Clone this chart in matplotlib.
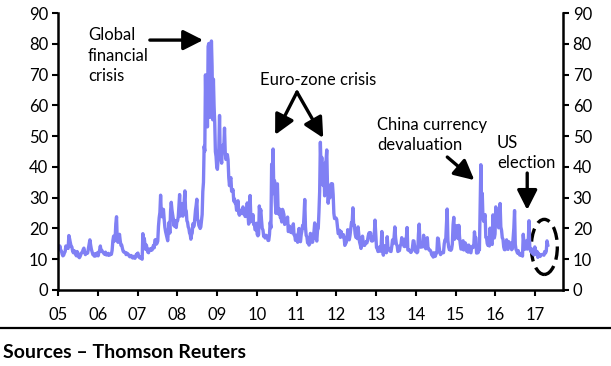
import numpy as np
import matplotlib
matplotlib.use("Agg")
import matplotlib.pyplot as plt
from matplotlib.patches import Ellipse

plt.rcParams['font.family'] = ['Lato', 'DejaVu Sans']

# Weekly VIX readings (approximate), one list per calendar year
vix_2005 = [14.1, 13.5, 14.3, 12.9, 12.7, 11.7, 11.1, 11.3, 12.0, 12.5, 14.3, 13.5, 14.0,
            13.5, 17.7, 16.6, 15.3, 14.2, 14.0, 12.6, 12.1, 12.8, 12.2, 11.6, 11.1, 12.5,
            12.0, 10.8, 10.5, 10.9, 11.6, 12.1, 12.3, 13.1, 13.6, 12.3, 11.5, 12.0, 11.9,
            12.0, 13.5, 15.0, 16.3, 14.6, 13.2, 12.3, 11.5, 11.4, 11.0, 11.8, 11.1, 11.8, 12.1]
vix_2006 = [11.1, 12.2, 12.9, 14.3, 12.6, 12.9, 12.4, 12.2, 11.8, 11.6, 12.3, 11.4, 11.4,
            11.4, 11.9, 11.3, 11.4, 11.6, 11.6, 12.9, 16.0, 17.5, 15.9, 16.3, 21.5, 23.8,
            15.9, 15.5, 16.5, 18.1, 16.0, 14.5, 14.6, 13.5, 12.6, 12.3, 12.3, 12.1, 11.5,
            12.0, 11.6, 11.6, 11.1, 10.8, 11.2, 11.2, 10.6, 10.4, 10.9, 10.9, 10.3, 10.8,
            11.6, 11.5]
vix_2007 = [12.0, 10.9, 10.6, 10.4, 10.7, 10.3, 10.0, 18.3, 15.7, 16.8, 14.7, 13.2, 14.6,
            13.2, 12.3, 12.1, 13.3, 13.2, 12.9, 13.5, 13.0, 13.8, 14.5, 13.7, 16.2, 16.4,
            14.9, 15.2, 15.9, 20.7, 23.5, 25.2, 30.8, 25.0, 23.8, 26.2, 26.2, 23.0, 20.4,
            19.0, 18.0, 17.0, 16.0, 19.5, 22.0, 18.5, 25.5, 28.5, 26.0, 24.5, 22.9, 20.8,
            22.6, 21.0, 20.3, 22.5]
vix_2008 = [22.5, 23.9, 27.2, 31.0, 24.0, 26.0, 28.0, 25.0, 24.0, 26.5, 29.0, 32.2, 26.0,
            25.7, 22.5, 22.0, 20.5, 20.0, 18.5, 18.0, 16.5, 18.0, 18.5, 21.5, 20.5, 21.0,
            23.5, 26.0, 27.5, 29.5, 23.0, 22.5, 21.0, 20.5, 20.0, 20.5, 22.5, 24.5, 32.0,
            35.0, 46.7, 45.1, 69.9, 55.0, 67.6, 53.0, 79.1, 80.1, 59.9, 56.1, 66.3, 80.9,
            72.7, 55.3, 68.5, 59.9, 54.3, 44.9, 43.4, 40.0]
vix_2009 = [39.2, 42.8, 46.1, 56.7, 42.6, 43.0, 41.2, 46.5, 47.1, 46.3, 52.6, 44.9, 42.4,
            43.2, 44.0, 42.3, 36.5, 33.9, 35.9, 36.5, 32.1, 32.1, 32.6, 28.9, 29.6, 28.2,
            28.1, 25.9, 26.4, 29.0, 25.0, 24.3, 25.9, 25.9, 25.4, 24.8, 27.0, 24.8, 25.3,
            23.9, 23.9, 25.6, 28.3, 25.0, 21.4, 22.3, 30.7, 24.2, 24.2, 22.2, 24.5, 21.3,
            21.5, 19.6, 19.5, 21.7]
vix_2010 = [18.1, 17.6, 18.0, 27.3, 24.6, 26.1, 22.7, 20.0, 19.5, 17.4, 17.6, 16.9, 17.8,
            17.6, 17.5, 16.1, 16.1, 18.0, 22.0, 20.2, 40.9, 31.2, 45.8, 32.0, 35.5, 28.6,
            24.9, 34.0, 34.5, 25.0, 24.6, 26.3, 23.5, 23.5, 22.1, 26.2, 25.5, 24.5, 21.3,
            22.0, 21.7, 22.0, 23.7, 19.0, 19.1, 20.7, 18.8, 20.2, 18.6, 18.9, 21.5, 17.9,
            17.6, 16.1, 17.8]
vix_2011 = [17.6, 15.5, 18.5, 20.0, 16.0, 15.7, 18.0, 19.2, 21.0, 20.1, 24.3, 29.4, 20.6,
            17.7, 17.4, 15.3, 15.9, 14.6, 15.0, 18.4, 17.1, 17.0, 15.5, 18.0, 18.9, 21.8,
            19.2, 16.5, 15.9, 19.5, 20.0, 25.3, 32.0, 48.0, 39.0, 43.1, 36.0, 33.9, 38.5,
            30.6, 41.3, 42.0, 45.5, 34.0, 28.2, 31.3, 29.9, 30.2, 34.5, 32.8, 34.5, 31.0,
            24.9, 23.2, 23.4, 23.4]
vix_2012 = [22.9, 20.6, 18.3, 18.5, 19.4, 17.1, 19.0, 17.8, 17.3, 18.0, 17.1, 14.5, 15.0,
            15.5, 16.7, 19.6, 17.4, 16.3, 17.6, 19.9, 21.9, 22.0, 26.7, 21.0, 21.1, 18.3,
            17.1, 17.1, 16.7, 20.5, 18.2, 15.6, 14.7, 13.5, 15.2, 17.5, 15.6, 14.5, 14.5,
            15.3, 15.7, 15.3, 16.4, 17.8, 18.6, 17.6, 18.6, 16.0, 15.9, 16.0, 16.6, 17.8,
            22.7, 18.0]
vix_2013 = [13.8, 13.4, 12.5, 12.9, 14.0, 12.6, 14.0, 19.0, 13.1, 11.3, 14.4, 12.7, 13.9,
            12.1, 17.3, 13.6, 13.5, 12.9, 12.6, 12.5, 14.2, 16.3, 15.1, 17.1, 20.5, 16.9,
            14.9, 14.4, 12.5, 12.7, 12.8, 14.4, 14.8, 17.0, 16.4, 15.9, 14.2, 14.1, 16.6,
            16.7, 20.3, 13.0, 13.1, 12.9, 12.5, 12.2, 12.6, 13.7, 16.0, 15.9, 13.8, 12.5]
vix_2014 = [13.8, 12.1, 12.4, 18.1, 21.4, 15.3, 13.9, 14.0, 14.0, 14.1, 17.8, 15.0, 13.9,
            13.4, 15.9, 17.0, 13.4, 13.3, 12.9, 12.9, 12.4, 11.4, 11.7, 10.7, 12.1, 10.9,
            11.0, 12.1, 12.1, 16.9, 16.7, 14.2, 12.3, 11.5, 12.1, 12.1, 12.3, 12.1, 15.0,
            16.3, 16.0, 21.2, 26.3, 16.1, 14.0, 13.1, 13.3, 12.9, 13.3, 14.9, 21.1, 23.6,
            16.5, 19.2]
vix_2015 = [17.8, 20.9, 20.9, 16.7, 21.0, 17.3, 15.0, 13.3, 13.3, 15.2, 16.0, 13.0, 15.4,
            15.3, 14.7, 12.6, 12.6, 12.3, 14.6, 12.9, 12.4, 12.1, 13.8, 14.2, 13.8, 14.0,
            18.9, 16.8, 17.0, 12.0, 13.0, 12.1, 13.4, 13.0, 28.0, 40.7, 28.4, 31.4, 23.2,
            22.3, 23.6, 24.5, 17.1, 17.1, 15.1, 14.5, 15.1, 14.3, 20.1, 15.5, 15.1, 14.8,
            24.4, 18.7, 16.9, 18.2]
vix_2016 = [27.0, 24.0, 22.3, 22.4, 20.2, 23.4, 28.1, 20.5, 19.4, 17.0, 16.5, 14.0, 13.1,
            13.1, 14.1, 16.3, 13.6, 13.2, 15.7, 14.7, 14.4, 15.2, 13.1, 13.5, 17.0, 20.1,
            25.8, 14.8, 13.2, 12.7, 12.0, 12.8, 12.0, 11.4, 11.3, 11.3, 12.0, 11.0, 18.1,
            15.3, 13.3, 13.3, 13.5, 16.1, 13.3, 16.2, 22.5, 14.2, 12.9, 12.3, 13.3, 11.8,
            12.2, 11.4, 14.0]
vix_2017 = [12.9, 11.6, 12.5, 10.6, 11.9, 11.0, 10.9, 11.5, 11.5, 11.5, 11.6, 11.3, 12.5,
            12.0, 12.6, 15.96, 14.6]

years = list(range(2005, 2018))
series_by_year = [vix_2005, vix_2006, vix_2007, vix_2008, vix_2009, vix_2010, vix_2011,
                  vix_2012, vix_2013, vix_2014, vix_2015, vix_2016, vix_2017]
weeks_in_partial_year = 52

x_tick_labels = ['05', '06', '07', '08', '09', '10', '11', '12', '13', '14', '15', '16', '17']
y_ticks = [0, 10, 20, 30, 40, 50, 60, 70, 80, 90]

# build time axis: evenly spread readings inside each year
xs, ys = [], []
for yr, vals in zip(years, series_by_year):
    n = len(vals) if yr != 2017 else weeks_in_partial_year
    for k, v in enumerate(vals):
        xs.append(yr + (k + 0.5) / n)
        ys.append(v)

W, H = 611, 366
fig = plt.figure(figsize=(W / 100, H / 100), dpi=100)
left, right = 58 / W, 563 / W
bottom, top = 1 - 290 / H, 1 - 13 / H
ax = fig.add_axes([left, bottom, right - left, top - bottom])

line_color = '#8080F4'
ax.plot(xs, ys, color=line_color, lw=2.4, solid_joinstyle='round')

ax.set_xlim(2005, 2017.7)
ax.set_ylim(0, 90)
ax.set_xticks(years)
ax.set_xticklabels(x_tick_labels)
ax.set_yticks(y_ticks)

ax.spines['top'].set_visible(False)
for s in ['left', 'right', 'bottom']:
    ax.spines[s].set_linewidth(1.8)
    ax.spines[s].set_color('black')

ax.tick_params(axis='both', direction='out', width=1.5, length=4, labelsize=12, colors='black')
ax.tick_params(axis='y', which='both', left=True, right=True, labelleft=True, labelright=True, pad=3)
ax.tick_params(axis='x', pad=8)

# annotations
tfs = 12
ax.text(2005.75, 85.3, 'Global\nfinancial\ncrisis', ha='left', va='top', fontsize=tfs, linespacing=1.32)
arrow_kw = dict(arrowstyle='-|>,head_length=0.75,head_width=0.38', color='black', lw=2.4,
                mutation_scale=16, shrinkA=0, shrinkB=0)
ax.annotate('', xy=(2008.65, 81.2), xytext=(2007.31, 81.2), arrowprops=arrow_kw)

ax.text(2010.08, 68.2, 'Euro-zone crisis', ha='left', va='center', fontsize=tfs)
ax.annotate('', xy=(2010.46, 50.4), xytext=(2011.01, 64.3), arrowprops=arrow_kw)
ax.annotate('', xy=(2011.67, 49.4), xytext=(2011.01, 64.3), arrowprops=arrow_kw)

ax.text(2013.03, 50.4, 'China currency\ndevaluation', ha='left', va='center', fontsize=tfs, linespacing=1.25)
ax.annotate('', xy=(2015.47, 35.7), xytext=(2014.79, 43.2), arrowprops=arrow_kw)

ax.text(2016.04, 44.5, 'US\nelection', ha='left', va='center', fontsize=tfs, linespacing=1.25)
ax.annotate('', xy=(2016.80, 26.0), xytext=(2016.80, 38.0), arrowprops=arrow_kw)

ell = Ellipse((2017.23, 14.0), width=0.654, height=17.9, fill=False, edgecolor='black',
              lw=2.4, linestyle=(0, (4, 2)))
ax.add_patch(ell)

# separator and source
fig.add_artist(plt.Line2D([0, 1], [1 - 328 / H, 1 - 328 / H], color='black', lw=1.6,
                          transform=fig.transFigure))
fig.text(3 / W, 1 - 352 / H, 'Sources \u2013 Thomson Reuters', ha='left', va='center',
         fontsize=14, fontweight='bold')

fig.savefig('out.png', dpi=100)
